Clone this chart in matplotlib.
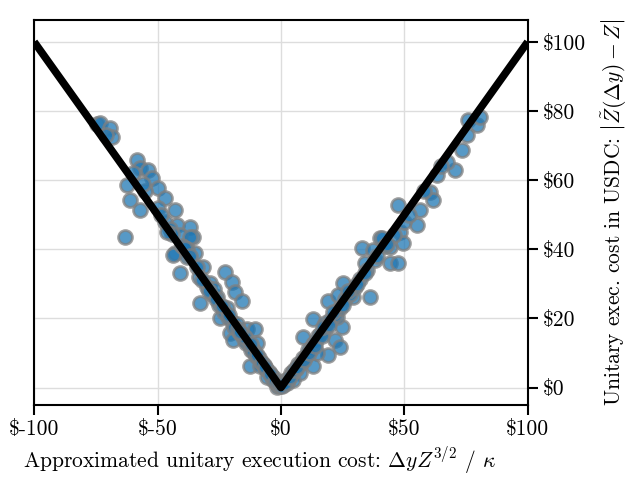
import numpy as np
import matplotlib
matplotlib.use("Agg")
import matplotlib.pyplot as plt
from matplotlib.ticker import FixedLocator, FixedFormatter

plt.rcParams['font.family'] = ['cmr10', 'DejaVu Serif']
plt.rcParams['mathtext.fontset'] = 'cm'
plt.rcParams['axes.unicode_minus'] = False
plt.rcParams['axes.formatter.use_mathtext'] = True

# Scatter data (approximated cost, observed cost)
x_left = [-74.5, -73.3, -69.2, -68.4, -58.3, -57.1, -53.8, -52.2, -49.8, -47.0,
          -42.9, -62.3, -61.1, -57.1, -63.2, -42.1, -36.8, -35.6, -42.9, -38.1,
          -34.8, -40.9, -36.8, -43.7, -40.9, -32.8, -22.7, -19.8, -18.6, -15.8,
          -24.7, -20.6, -19.4, -13.8, -10.5, -9.7, -12.6, -8.5, -5.7, -3.2,
          -1.6, -28.7, -25.9, -31.6,
          -30.0, -28.0, -27.0, -25.0, -23.0, -22.0, -20.0, -18.0, -17.0, -16.0,
          -15.0, -14.0, -13.0, -12.0, -11.0, -10.0, -9.0, -8.0, -7.0, -6.0,
          -5.0, -4.0, -3.0, -2.0, -1.0, -47.0, -45.0, -44.0, -40.0, -38.0,
          -34.0, -33.0, -55.0, -50.0, -71.0, -60.0, -56.0, -48.5, -46.0, -39.0,
          -37.0, -32.0, -29.0, -26.5, -24.0, -21.5, -19.0, -17.5, -14.5, -11.5,
          -9.5, -7.5, -6.5, -4.5, -2.5, -1.2, -0.5, -21.0, -16.5, -12.0]
y_left = [76.3, 76.6, 75.1, 72.5, 65.9, 63.6, 63.0, 60.7, 57.8, 54.9,
          51.4, 58.7, 54.3, 51.4, 43.6, 47.1, 46.5, 43.6, 39.0, 37.9,
          39.0, 44.2, 43.6, 38.4, 33.2, 24.6, 33.5, 30.6, 27.7, 24.9,
          20.2, 15.9, 13.9, 16.8, 16.8, 13.0, 6.1, 6.1, 3.2, 2.3,
          0.3, 30.3, 26.3, 35.0,
          29.0, 27.0, 28.5, 24.0, 22.0, 23.0, 19.0, 18.5, 16.0, 15.5,
          14.0, 13.0, 12.5, 11.0, 10.5, 9.0, 8.5, 7.5, 6.5, 5.5,
          4.5, 3.5, 2.8, 1.8, 0.8, 48.0, 46.0, 44.5, 41.0, 40.0,
          35.0, 32.0, 57.0, 52.0, 73.0, 62.0, 59.0, 50.0, 45.0, 40.5,
          38.0, 31.0, 28.0, 25.5, 23.5, 20.5, 17.5, 17.0, 14.5, 10.5,
          9.5, 7.0, 6.0, 4.0, 2.0, 1.0, 0.5, 21.0, 16.0, 12.5]
x_right = [32.8, 37.2, 40.1, 34.0, 25.1, 29.1, 36.0, 19.0, 23.1, 13.0,
           17.8, 24.7, 8.9, 21.9, 23.9, 19.0, 14.6, 13.0, 7.7, 4.9,
           2.4, 22.7, 75.7, 79.4, 80.6, 75.3, 73.3, 70.4, 67.2, 63.2,
           60.3, 61.5, 47.4, 56.3, 55.1, 48.2, 49.4, 40.9, 44.1, 44.1,
           47.4,
           1.0, 2.0, 3.0, 4.0, 5.0, 6.0, 7.0, 8.0, 9.0, 10.0,
           11.0, 12.0, 13.0, 14.0, 15.0, 16.0, 18.0, 20.0, 22.0, 24.0,
           26.0, 28.0, 30.0, 32.0, 35.0, 38.0, 42.0, 46.0, 50.0, 52.0,
           58.0, 65.0, 0.5, 1.5, 3.5, 5.5, 6.5, 9.5, 11.5, 14.0,
           16.5, 17.0, 19.5, 21.0, 25.0, 27.0, 31.0, 34.0, 39.0, 43.0]
y_right = [40.5, 39.9, 43.4, 36.1, 30.3, 26.3, 26.3, 24.9, 26.9, 19.7,
           18.8, 17.6, 14.7, 13.9, 11.6, 9.5, 10.1, 6.1, 4.3, 2.3,
           1.4, 20.5, 77.5, 76.0, 78.3, 73.1, 68.8, 63.0, 65.3, 61.6,
           56.6, 54.3, 52.9, 51.4, 47.1, 45.1, 41.9, 43.4, 40.8, 36.1,
           36.1,
           0.8, 2.2, 2.5, 4.2, 4.5, 5.3, 6.8, 7.2, 8.5, 9.2,
           10.8, 11.2, 12.5, 13.2, 14.8, 15.5, 17.0, 19.5, 21.0, 23.0,
           25.5, 27.0, 29.0, 31.5, 34.0, 37.0, 41.0, 44.0, 48.0, 50.0,
           57.0, 64.0, 0.4, 1.2, 3.0, 5.0, 6.0, 8.0, 10.0, 12.0,
           15.0, 17.5, 18.0, 22.0, 24.0, 28.0, 30.0, 33.0, 38.0, 41.5]

line_x = np.array([-100, 0, 100])
line_y = np.abs(line_x)

x_ticks = [-100, -50, 0, 50, 100]
x_ticklabels = [r'\$-100', r'\$-50', r'\$0', r'\$50', r'\$100']
y_ticks = [0, 20, 40, 60, 80, 100]
y_ticklabels = [r'\$0', r'\$20', r'\$40', r'\$60', r'\$80', r'\$100']

fig = plt.figure(figsize=(6.32, 4.78), dpi=100)
ax = fig.add_axes([0.054, 0.153, 0.781, 0.805])

xs = np.array(x_left + x_right)
ys = np.array(y_left + y_right)
ax.scatter(xs, ys, s=100, facecolor='#1f77b4', edgecolor='#808080',
           linewidth=2, alpha=0.75, zorder=2)
ax.plot(line_x, line_y, color='black', linewidth=5.5, zorder=3,
        solid_capstyle='butt')

ax.set_xlim(-100, 100)
ax.set_ylim(-5, 106.3)
ax.grid(True, color='#dddddd', linewidth=1.0, zorder=0)
ax.set_axisbelow(True)

ax.xaxis.set_major_locator(FixedLocator(x_ticks))
ax.xaxis.set_major_formatter(FixedFormatter(x_ticklabels))
ax.yaxis.set_major_locator(FixedLocator(y_ticks))
ax.yaxis.set_major_formatter(FixedFormatter(y_ticklabels))
ax.yaxis.tick_right()
ax.yaxis.set_label_position('right')
ax.tick_params(axis='both', labelsize=15.5, length=7, width=1.5, direction='out')

for sp in ax.spines.values():
    sp.set_linewidth(1.5)

ax.set_xlabel(r'Approximated unitary execution cost: $\Delta y Z^{3/2}$ / $\kappa$',
              fontsize=15.5)
ax.set_ylabel(r'Unitary exec. cost in USDC: $\left|\tilde{Z}(\Delta y) - Z\right|$',
              fontsize=15.5, labelpad=10)
ax.xaxis.set_label_coords(0.456, -0.105)

fig.savefig('out.png', dpi=100)
